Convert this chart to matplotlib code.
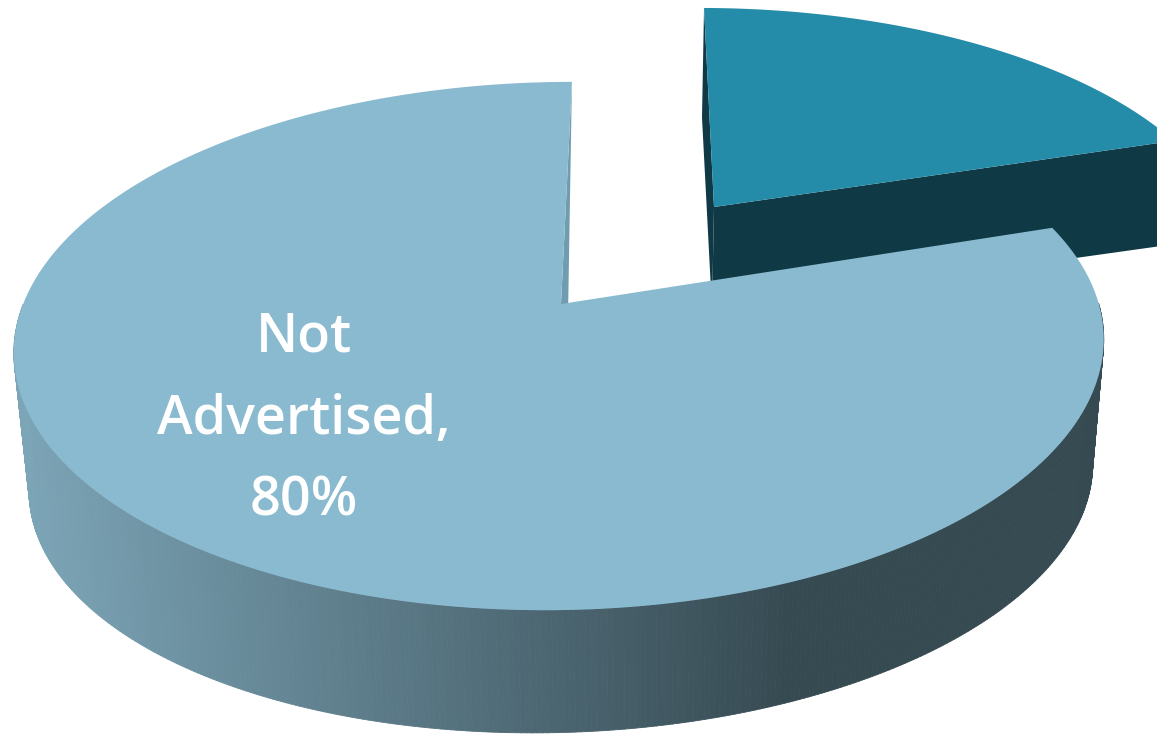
import numpy as np
import matplotlib
matplotlib.use('Agg')
import matplotlib.pyplot as plt
from matplotlib.collections import PolyCollection
from matplotlib.colors import LinearSegmentedColormap, Normalize
from matplotlib.patches import Polygon

# share of each slice, percent
categories = ['Not Advertised', 'Advertised']
shares = [80, 20]
label_lines = ['Not', 'Advertised,', '80%']

big_top = '#89bacf'
big_wall = '#6f9cae'
small_top = '#248ca8'
small_side = '#0f3945'
side_cmap = LinearSegmentedColormap.from_list('side', ['#7ca5b7', '#364a52'])


def project(theta, view):
    # perspective projection of a point on the pie rim, theta in degrees clockwise from 12 o'clock
    x0, y0, a, b, k, m, s, t, rot = view
    th = np.radians(np.asarray(theta, dtype=float) + rot)
    u, v = np.sin(th), np.cos(th)
    w = 1 + k * v + m * u
    return np.column_stack([x0 + (a * u + s * v) / w, y0 - (b * v + t * u) / w])


def rim(start, stop, view, n=300):
    return project(np.linspace(start, stop, n), view)


def apex(view):
    return np.array([[view[0], view[1]]])


# x0, y0, a, b, k, m, s, t, rotation
big_upper = (561, 304, 538, 257.4, 0.159, 0.004, 0, 6.5, 1.35)
big_lower = (563, 437, 525, 248.5, 0.159, 0.004, 0, 13, 1.35)
small_upper = (714, 207, 510, 230.7, 0.159, 0.0, -16, 0, 0.5)
small_lower = (712, 309, 504, 222, 0.159, 0.0, -16, 0, 0.5)

split = 360 * shares[1] / sum(shares)

fig = plt.figure(figsize=(11.57, 7.34), dpi=100)
ax = fig.add_axes([0, 0, 1, 1])
ax.set_xlim(0, 1157)
ax.set_ylim(734, 0)
ax.axis('off')

# pulled out slice: walls first, then its top
small_rim = rim(0, split, small_upper)
small_rim_low = rim(0, split, small_lower)
back_wall = np.vstack([small_rim[:1], small_rim_low[:1], apex(small_lower), apex(small_upper)])
cut_wall = np.vstack([apex(small_upper), apex(small_lower), small_rim_low[-1:], small_rim[-1:]])
ax.add_patch(Polygon(back_wall, closed=True, fc=small_side, ec='none', zorder=1))
ax.add_patch(Polygon(cut_wall, closed=True, fc=small_side, ec='none', zorder=1))
ax.add_patch(Polygon(np.vstack([apex(small_upper), small_rim]), closed=True, fc=small_top, ec='none', zorder=2))

# inner wall of the big slice along the gap
big_start = rim(split, 360, big_upper)
inner_wall = np.vstack([big_start[-1:], apex(big_upper), apex(big_lower) + [3, 0]])
ax.add_patch(Polygon(inner_wall, closed=True, fc=big_wall, ec='none', zorder=3))

# front wall, shaded left to right
angles = np.linspace(90, 270, 361)
up = project(angles, big_upper)
low = project(angles, big_lower)
quads = [np.array([up[i], up[i + 1], low[i + 1], low[i]]) for i in range(len(angles) - 1)]
mid_x = [q[:, 0].mean() for q in quads]
front = PolyCollection(quads, array=np.array(mid_x), cmap=side_cmap, norm=Normalize(20, 790),
                       edgecolors='face', linewidths=0.6, zorder=4)
ax.add_collection(front)

ax.add_patch(Polygon(np.vstack([apex(big_upper), big_start]), closed=True, fc=big_top, ec='none', zorder=5))

baselines = [352, 434, 516]
for line, base in zip(label_lines, baselines):
    ax.text(304, base, line, color='white', fontsize=38.8, family='Open Sans', weight='semibold',
            ha='center', va='baseline', zorder=6)

plt.savefig('out.png', dpi=100)
